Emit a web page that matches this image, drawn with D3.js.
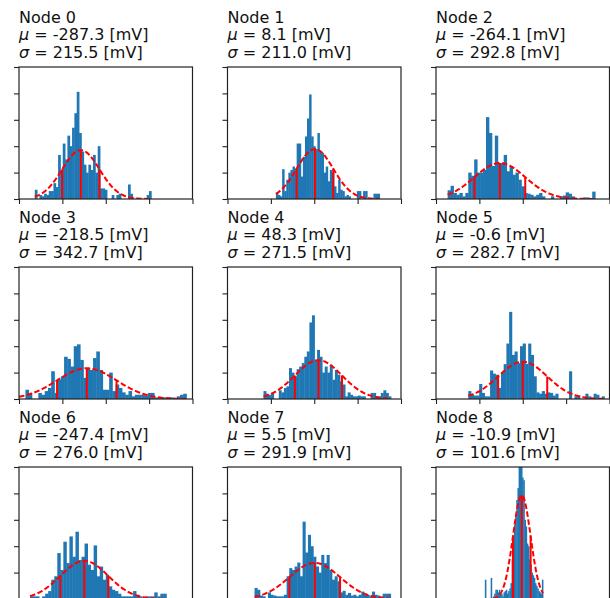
<!DOCTYPE html>
<html>
<head>
<meta charset="utf-8">
<script src="https://cdn.jsdelivr.net/npm/d3@7"></script>
<style>
  body { margin: 0; background: #fff; }
  text { font-family: "DejaVu Sans", sans-serif; fill: #111; }
</style>
</head>
<body>
<div id="chart"></div>
<script>
// fitted values per node
const nodeNames = ["Node 0", "Node 1", "Node 2", "Node 3", "Node 4", "Node 5", "Node 6", "Node 7", "Node 8"];
const means = [-287.3, 8.1, -264.1, -218.5, 48.3, -0.6, -247.4, 5.5, -10.9];
const sigmas = [215.5, 211.0, 292.8, 342.7, 271.5, 282.7, 276.0, 291.9, 101.6];

// histogram range (mV) for each node, bins are equal width in between
const binStart = [-818, -442, -866, -1000, -585, -628, -873, -688, -437];
const binEnd = [525, 754, 835, 930, 885, 942, 699, 881, 234];

// density per bin, in units of 1e-3 / mV
const dens0 = [0.35,0,0.15,0.1,0.2,0.15,0.3,0.3,0.6,0.45, 1.67,1.1,2.1,1.5,2.4,2.0,2.7,3.25,4.06,2.5,
  1.8,1.3,1.0,1.3,1.1,1.67,1.0,2.0,0.4,0.4, 0.35,0,0,0.15,0,0.15,0.2,0,0,0, 0.55,0.2,0,0,0,0,0,0,0.15,0.3];
const dens1 = [0.25,0.15,0.1,1.13,0.3,0.73,1.0,1.1,1.23,1.15, 2.1,2.1,0.85,1.6,2.37,3.05,3.96,2.37,2.0,1.9,
  2.5,1.8,1.75,1.0,1.23,0.67,1.1,1.0,0.48,0.23, 0.73,0.35,0.3,0.1,0.15,0.1,0,0,0,0.3, 0.3,0,0.3,0.3,0,0,0,0.2,0.2,0.2];
const dens2 = [0.33,0.5,0.23,0.16,0.23,0.1,0.23,1.0,0.88,1.5, 1.0,1.0,1.1,3.1,2.5,1.25,2.4,1.36,1.36,1.67,
  1.05,1.25,0.92,1.0,0.73,0.48,0.23,0.2,0.16,0.1, 0.16,0.23,0.1,0,0,0.1,0,0,0.1,0.13, 0.25,0.2,0.1,0,0,0,0.06,0.06,0,0.28];
const dens3 = [0,0, 0.35,0.2,0,0,0.23,0.16,0.3,0.42,1.05,0.23, 0.73,0.86,1.6,1.52,1.23,2.0,2.07,1.48,0.8,1.17,
  1.1,1.55,1.8,1.1,0.35,0.35,1.0,0.3,0.55,0.42, 0.25,0.16,0.3,0.1,0.16,0.16,0.16,0.13,0.23,0.23,
  0.06,0.06,0.06,0.06,0.06,0.06,0,0.1,0.16,0.2];
const dens4 = [0.3,0.2,0.16,0.23,0,0,0.33,0.25,0.42,0.48, 1.17,1.0,0.86,1.13,1.23,1.36,1.6,1.8,2.9,3.17,
  1.48,1.86,1.6,1.0,1.23,1.0,1.3,0.73,1.1,0.92, 0.67,0.55,0.1,0.25,0.16,0.1,0.1,0.13,0.1,0.1, 0,0,0.23,0.23,0.1,0.1,0.23,0.33,0.23,0.1];
const dens5 = [0.3,0.16,0.13,0.13,0.57,0.23,0.1,0.1,1.08,0.96, 0.92,0.42,1.0,1.32,2.1,3.3,1.67,1.8,1.36,2.0,
  2.1,1.33,2.1,1.67,0.86,0.25,0.2,0.3,0.2,0.25, 0.23,0.13,0.2,0,0,0,0,1.05,0,0.1, 0.13,0,0,0.2,0.1,0,0.2,0.16,0,0.1];
const dens6 = [0.1,0.1,0.1,0,0.1,0.2,0.3,0.73,0.86,1.74, 1.1,2.17,1.36,2.37,1.6,2.55,1.48,1.6,2.1,1.3,
  1.1,2.03,0.86,1.23,0.73,0.92,0.48,0.35,0.3,0.2, 0.1,0.1,0.1,0.1,0.3,0.16,0.1,0,0.1,0.1, 0.1,0.25,0.1,0.2,0.2];
const dens7 = [0.42,0.35,0.13,0.1,0,0.25,0.16,0.13,0.1,0.1, 0.1,0.16,0.86,1.17,1.1,1.23,1.38,0.86,2.93,1.76,
  2.43,2.0,1.6,1.23,1.0,1.67,1.36,1.67,1.1,0.73, 0.86,0.67,0.25,0.31,0.16,0.23,0.13,0.16,0.1,0.16,
  0.28,0.2,0.16,0.1,0.28,0.16,0.13,0.1,0.2,0.2,0.2];
const dens8 = [0.73,0,0,0,0,0.8,0,0.1,0.2,0.35, 0.35,0.25,0.35,0.15,0.2,0.1,0.25,0.3,0.35,0.2,
  0.3,0.4,0.6,1.5,2.1,2.8,3.2,3.75,4.2,5.3, 5.3,5.3,4.6,4.5,3.0,2.75,2.1,2.0,1.5,1.3, 1.0,0.9,0.8,0.6,0.5,0.4,0.3,0.25,0.2,0.73];
const densities = [dens0, dens1, dens2, dens3, dens4, dens5, dens6, dens7, dens8];

const xTicks = [-1000, -500, 0, 500, 1000];
const yTicks = [0, 1, 2, 3, 4, 5];

const colLeft = [19, 227.5, 436];
const rowTop = [67, 267, 467];
const pw = 173.5, ph = 132;

const svg = d3.select("#chart")
  .append("svg")
    .attr("width", 610)
    .attr("height", 598);

svg.append("clipPath").attr("id", "clip")
  .append("rect").attr("width", pw).attr("height", ph);

const x = d3.scaleLinear().domain([-1000, 1000]).range([0, pw]);
const y = d3.scaleLinear().domain([0, 5]).range([ph, 0]);

const pdf = (v, mu, s) => 1000 / (s * Math.sqrt(2 * Math.PI)) * Math.exp(-0.5 * ((v - mu) / s) ** 2);

nodeNames.forEach((name, i) => {
  const g = svg.append("g")
    .attr("transform", `translate(${colLeft[i % 3]},${rowTop[Math.floor(i / 3)]})`);
  const mu = means[i], s = sigmas[i];
  const d = densities[i];
  const bw = (binEnd[i] - binStart[i]) / d.length;

  const plot = g.append("g").attr("clip-path", "url(#clip)");

  // histogram bars (small overlap so neighbours don't show seams)
  plot.selectAll("rect")
    .data(d)
    .join("rect")
      .attr("x", (v, k) => x(binStart[i] + k * bw))
      .attr("width", x(bw) - x(0) + 0.4)
      .attr("y", v => y(v))
      .attr("height", v => y(0) - y(v))
      .attr("fill", "#1f77b4");

  // fitted normal curve
  const xs = d3.range(200).map(k => binStart[i] + k * (binEnd[i] - binStart[i]) / 199);
  plot.append("path")
    .datum(xs)
    .attr("fill", "none")
    .attr("stroke", "#ff0000")
    .attr("stroke-width", 2)
    .attr("stroke-dasharray", "5.5,2.5")
    .attr("d", d3.line().x(v => x(v)).y(v => y(pdf(v, mu, s))));

  // mean and +-sigma markers
  plot.selectAll("line.mark")
    .data([mu - s, mu, mu + s])
    .join("line")
      .attr("class", "mark")
      .attr("x1", v => x(v)).attr("x2", v => x(v))
      .attr("y1", y(0))
      .attr("y2", v => y(pdf(v, mu, s)))
      .attr("stroke", "#ff0000")
      .attr("stroke-width", 2);

  // axes, no tick labels
  g.append("g")
    .attr("transform", `translate(0,${ph})`)
    .call(d3.axisBottom(x).tickValues(xTicks).tickFormat("").tickSize(5).tickSizeOuter(0))
    .call(a => a.select(".domain").remove());
  g.append("g")
    .call(d3.axisLeft(y).tickValues(yTicks).tickFormat("").tickSize(5).tickSizeOuter(0))
    .call(a => a.select(".domain").remove());
  g.selectAll(".tick line").attr("stroke", "#222").attr("stroke-width", 1.1);

  g.append("rect")
    .attr("width", pw).attr("height", ph)
    .attr("fill", "none")
    .attr("stroke", "#222")
    .attr("stroke-width", 1.2);

  // title lines
  const t = g.append("g").style("font-size", "16px");
  t.append("text").attr("y", -44.3).text(name);
  const m = t.append("text").attr("y", -27);
  m.append("tspan").style("font-style", "italic").text("\u03bc");
  m.append("tspan").text(` = ${mu.toFixed(1)} [mV]`);
  const sg = t.append("text").attr("y", -8.7);
  sg.append("tspan").style("font-style", "italic").text("\u03c3");
  sg.append("tspan").text(` = ${s.toFixed(1)} [mV]`);
});
</script>
</body>
</html>
